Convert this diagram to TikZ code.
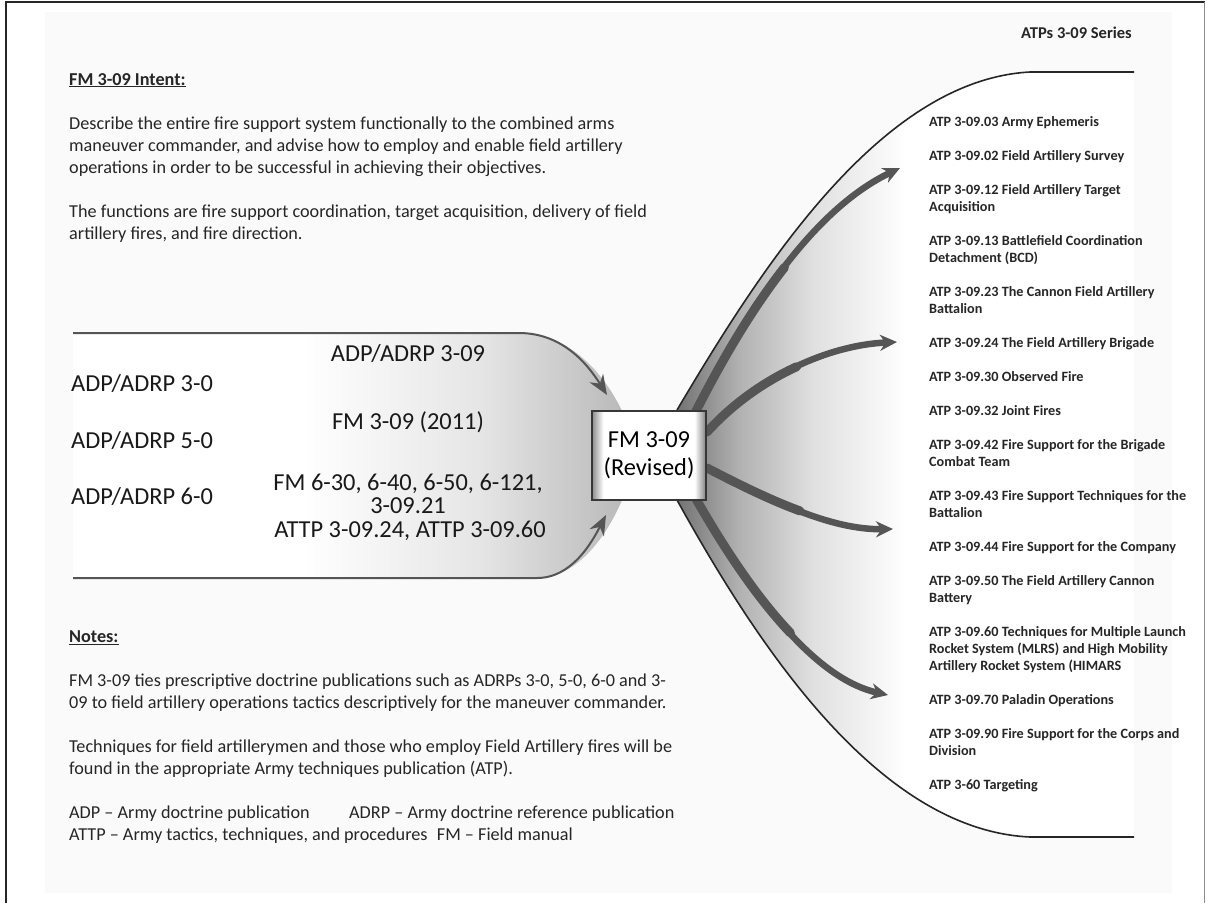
\documentclass[tikz,border=0pt]{standalone}
\usepackage{fontspec}
\setmainfont{Carlito}
\usepackage{xcolor}
\usepackage{tikz}
\usetikzlibrary{positioning, calc, arrows.meta, backgrounds}
\definecolor{flowgray}{RGB}{85,85,85}
\definecolor{linegray}{RGB}{55,55,55}
\definecolor{paper}{RGB}{250,250,250}
\pgfdeclarehorizontalshading{leftfunnel}{100bp}{color(0bp)=(white); color(46bp)=(white); color(62bp)=(black!10); color(75bp)=(black!27); color(100bp)=(black!27)}
\pgfdeclarehorizontalshading{rightfunnel}{100bp}{color(0bp)=(black!55); color(25bp)=(black!55); color(32bp)=(black!30); color(40bp)=(black!12); color(50bp)=(white); color(100bp)=(white)}
\pgfdeclarehorizontalshading{boxshade}{100bp}{color(0bp)=(black!45); color(25bp)=(black!45); color(30bp)=(white); color(70bp)=(white); color(75bp)=(black!50); color(100bp)=(black!50)}

\begin{document}
\begin{tikzpicture}[x=1pt, y=-1pt,
    bodytext/.style={anchor=base west, inner sep=0pt, text=black!85, font=\fontsize{18.2}{22}\selectfont},
    bodyhead/.style={bodytext, font=\fontsize{18.2}{22}\selectfont\bfseries},
    pubtext/.style={anchor=base, inner sep=0pt, text=black!90, font=\fontsize{24.4}{24}\selectfont},
    atpitem/.style={anchor=base west, inner sep=0pt, text=black!85, font=\fontsize{14.2}{17}\selectfont\bfseries},
    fmbox/.style={draw=linegray, line width=2pt, shade, shading=boxshade, minimum width=114pt, minimum height=89pt, inner sep=0pt, align=center, font=\fontsize{24.4}{28}\selectfont},
    inflow/.style={draw=flowgray, line width=2pt, -{Stealth[length=20pt, width=16pt]}},
    outflow/.style={draw=flowgray, line width=6.5pt, -{Stealth[length=17pt, width=16pt]}},
    outroot/.style={draw=flowgray, line width=9pt, line cap=round},
    edgeline/.style={draw=black!85, line width=1.6pt}
  ]
  \useasboundingbox (0,0) rectangle (1207,903);

  % the revised manual in the middle
  \node[fmbox] (fm) at (649,455.5) {FM 3-09\\(Revised)};

  \coordinate (srctop) at (73,333);
  \coordinate (srcbot) at (73,578);
  \coordinate (intop) at (607,395);
  \coordinate (inbot) at (606,515);
  \coordinate (tipa) at (900,168);
  \coordinate (tipb) at (897,342);
  \coordinate (tipc) at (893,529);
  \coordinate (tipd) at (888,695);

  \begin{scope}[on background layer]
    \fill[paper] (45,12) rectangle (1172,893);
    \draw[black!85, line width=2pt] (5.5,903) -- (5.5,1.5) -- (1204.5,1.5);
    \draw[black!45, line width=1.5pt] (1204.5,1.5) -- (1204.5,903);

    % funnel into FM 3-09
    \path[shade, shading=leftfunnel] (srctop) -- (519,333) .. controls (570,333) and (605,375) .. (622,411)
      -- (622,500) .. controls (605,540) and (575,578) .. (537,578) -- (srcbot) -- cycle;
    \draw[inflow] (srctop) -- (519,333) .. controls (565,333) and (590,368) .. (intop);
    \draw[inflow] (srcbot) -- (537,578) .. controls (572,578) and (592,542) .. (inbot);

    % funnel out to the ATPs
    \path[shade, shading=rightfunnel] (677,410) .. controls (760,270) and (880,80) .. (1030,72) -- (1134,72)
      -- (1134,837) -- (1030,837) .. controls (880,830) and (760,650) .. (677,500) -- cycle;
    \draw[edgeline] (677,410) .. controls (760,270) and (880,80) .. (1030,72) -- (1134,72);
    \draw[edgeline] (677,500) .. controls (760,650) and (880,830) .. (1030,837) -- (1134,837);

    % thick roots of the four arrows
    \draw[outroot] ($(fm.north east)+(-11,1)$) .. controls (721.5,361) and (750.75,310.5) .. (784.4,267.5);
    \draw[outroot] ($(fm.east)+(0,-23.5)$) .. controls (733,403.5) and (764,381.75) .. (796.6,366.75);
    \draw[outroot] ($(fm.east)+(0,12.5)$) .. controls (738,484) and (769,499.5) .. (799.9,510.9);
    \draw[outroot] ($(fm.south east)+(-11,-2)$) .. controls (727.5,554) and (758.75,599.5) .. (790.4,632.9);

    \draw[outflow] ($(fm.north east)+(-11,1)$) .. controls (748,310) and (812,210) .. (tipa);
    \draw[outflow] ($(fm.east)+(0,-23.5)$) .. controls (760,375) and (830,345) .. (tipb);
    \draw[outflow] ($(fm.east)+(0,12.5)$) .. controls (770,500) and (830,530) .. (tipc);
    \draw[outflow] ($(fm.south east)+(-11,-2)$) .. controls (760,610) and (820,680) .. (tipd);
  \end{scope}

  % intent
  \node[bodyhead] (intent) at (69,85) {\underline{FM 3-09 Intent:}};
  \foreach \y/\ltxt [count=\i] in {129/{Describe the entire fire support system functionally to the combined arms},
      151/{maneuver commander, and advise how to employ and enable field artillery},
      173/{operations in order to be successful in achieving their objectives.},
      217/{The functions are fire support coordination, target acquisition,  delivery of field},
      239/{artillery fires, and fire direction.}}
    \node[bodytext] (intent\i) at (69,\y) {\ltxt};

  % publications feeding in
  \node[pubtext, anchor=base west] (adp3) at (71,391) {ADP/ADRP 3-0};
  \node[pubtext, anchor=base west] (adp5) at (71,448) {ADP/ADRP 5-0};
  \node[pubtext, anchor=base west] (adp6) at (71,504) {ADP/ADRP 6-0};
  \node[pubtext] (adp309) at (408,361) {ADP/ADRP 3-09};
  \node[pubtext] (fm2011) at (408,429.5) {FM 3-09 (2011)};
  \node[pubtext] (fmsix) at (408,490) {FM 6-30, 6-40, 6-50, 6-121,};
  \node[pubtext] (fm30921) at (408,513) {3-09.21};
  \node[pubtext] (attp) at (410,537) {ATTP 3-09.24,  ATTP 3-09.60};

  % notes
  \node[bodyhead] (notes) at (69,642.5) {\underline{Notes:}};
  \foreach \y/\ltxt [count=\i] in {686.5/{FM 3-09 ties prescriptive doctrine publications such as ADRPs 3-0, 5-0,  6-0  and 3-},
      708.5/{09 to field artillery operations tactics descriptively for the maneuver commander.},
      752.5/{Techniques for field artillerymen and those who employ Field Artillery fires will be},
      774.5/{found in the appropriate Army techniques publication (ATP).}}
    \node[bodytext] (note\i) at (69,\y) {\ltxt};
  \node[bodytext] (adp) at (69,818.5) {ADP -- Army  doctrine publication};
  \node[bodytext] (adrp) at (349,818.5) {ADRP -- Army doctrine reference publication};
  \node[bodytext] (attpdef) at (69,840.5) {ATTP -- Army tactics, techniques, and procedures};
  \node[bodytext, right=9pt of attpdef.base east, anchor=base west] (fmdef) {FM -- Field  manual};

  % ATP series
  \node[anchor=base east, inner sep=0pt, text=black!85, font=\fontsize{16.5}{18}\selectfont\bfseries] (series) at (1132,38) {ATPs 3-09 Series};
  \foreach \n/\ltxt in {0/{ATP 3-09.03 Army Ephemeris}, 2/{ATP 3-09.02 Field Artillery Survey},
      4/{ATP 3-09.12 Field Artillery Target}, 5/{Acquisition},
      7/{ATP 3-09.13 Battlefield Coordination}, 8/{Detachment (BCD)},
      10/{ATP 3-09.23 The Cannon Field Artillery}, 11/{Battalion},
      13/{ATP 3-09.24 The Field Artillery Brigade}, 15/{ATP 3-09.30 Observed Fire},
      17/{ATP 3-09.32 Joint Fires}, 19/{ATP 3-09.42 Fire Support for the Brigade}, 20/{Combat Team},
      22/{ATP 3-09.43 Fire Support Techniques for the}, 23/{Battalion},
      25/{ATP 3-09.44 Fire Support for the Company},
      27/{ATP 3-09.50 The Field Artillery Cannon}, 28/{Battery},
      30/{ATP 3-09.60 Techniques for Multiple Launch}, 31/{Rocket System (MLRS) and  High Mobility},
      32/{Artillery Rocket System (HIMARS},
      34/{ATP 3-09.70  Paladin Operations},
      36/{ATP 3-09.90 Fire Support for the Corps and}, 37/{Division},
      39/{ATP 3-60 Targeting}}
    \node[atpitem] (atp\n) at (929,126.7+17*\n) {\ltxt};
\end{tikzpicture}
\end{document}
